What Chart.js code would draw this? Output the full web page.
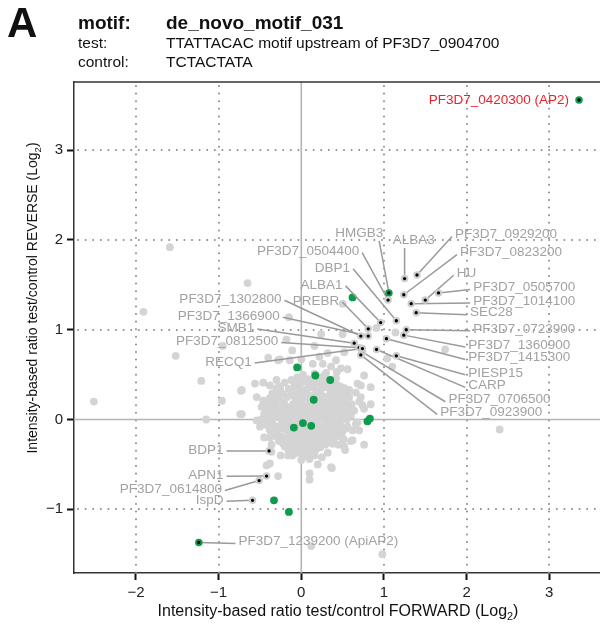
<!DOCTYPE html>
<html>
<head>
<meta charset="utf-8">
<script src="https://cdn.jsdelivr.net/npm/chart.js@4.4.1/dist/chart.umd.min.js"></script>
<style>
  html, body { margin: 0; padding: 0; background: #fff; overflow: hidden; }
  #wrap { position: relative; width: 600px; height: 626px; overflow: hidden; }
  #chart { position: absolute; left: 0; top: 0; }
  .hd { position: absolute; font-family: "Liberation Sans", Arial, sans-serif; color: #111; white-space: nowrap; line-height: 1; }
  .b { font-weight: bold; }
</style>
</head>
<body>
<div id="wrap">
  <canvas id="chart" width="640" height="626"></canvas>
  <div class="hd b" style="left:7px; top:2px; font-size:42px;">A</div>
  <div class="hd b" style="left:78px; top:13px; font-size:19px;">motif:</div>
  <div class="hd b" style="left:166px; top:13px; font-size:19px;">de_novo_motif_031</div>
  <div class="hd" style="left:78px; top:35px; font-size:15.5px;">test:</div>
  <div class="hd" style="left:166px; top:35px; font-size:15.5px;">TTATTACAC motif upstream of PF3D7_0904700</div>
  <div class="hd" style="left:78px; top:54px; font-size:15.5px;">control:</div>
  <div class="hd" style="left:166px; top:54px; font-size:15.5px;">TCTACTATA</div>
</div>
<script>
const FONT = '"Liberation Sans", Arial, Helvetica, sans-serif';

// axis ticks (Log2)
const xTickValues = [-2, -1, 0, 1, 2, 3];
const yTickValues = [-1, 0, 1, 2, 3];

// all other proteins: [FORWARD, REVERSE]
const otherProteins = [
  [-0.05,0.47],[0.08,0.45],[0.22,0.47],[0.34,0.43],[0.42,0.46],
  [-0.2,0.41],[-0.08,0.39],[0.03,0.42],[0.12,0.38],[0.19,0.41],[0.27,0.39],[0.38,0.40],[0.47,0.37],
  [-0.12,0.44],[0.0,0.43],[0.15,0.44],[0.3,0.43],
  [-0.3,0.35],[-0.15,0.34],[-0.04,0.36],[0.06,0.33],[0.15,0.35],[0.24,0.34],[0.31,0.36],[0.40,0.33],[0.52,0.35],
  [-0.25,0.32],[-0.09,0.31],[0.02,0.30],[0.2,0.31],[0.36,0.30],[0.48,0.31],
  [-0.35,0.29],[-0.22,0.28],[-0.12,0.27],[-0.01,0.29],[0.09,0.27],[0.18,0.28],[0.26,0.26],[0.35,0.29],[0.44,0.27],[0.55,0.28],
  [-0.38,0.24],[-0.27,0.23],[-0.17,0.25],[-0.06,0.22],[0.04,0.24],[0.13,0.23],[0.21,0.25],[0.30,0.22],[0.39,0.24],[0.49,0.23],[0.58,0.25],
  [-0.34,0.21],[-0.02,0.20],[0.1,0.21],[0.25,0.19],[0.45,0.20],
  [-0.41,0.18],[-0.31,0.17],[-0.21,0.19],[-0.1,0.17],[0.0,0.18],[0.08,0.16],[0.17,0.18],[0.26,0.16],[0.34,0.19],[0.43,0.17],[0.53,0.18],[0.61,0.17],
  [-0.37,0.15],[-0.18,0.14],[0.05,0.15],[0.22,0.13],[0.4,0.14],[0.5,0.15],
  [-0.43,0.12],[-0.33,0.11],[-0.24,0.13],[-0.14,0.11],[-0.05,0.12],[0.04,0.10],[0.12,0.12],[0.21,0.11],[0.29,0.13],[0.38,0.11],[0.47,0.12],[0.57,0.10],
  [-0.40,0.09],[-0.2,0.08],[-0.01,0.09],[0.15,0.07],[0.31,0.08],[0.55,0.07],
  [-0.45,0.06],[-0.36,0.05],[-0.27,0.07],[-0.18,0.05],[-0.08,0.06],[0.01,0.04],[0.09,0.06],[0.17,0.05],[0.26,0.06],[0.34,0.04],[0.43,0.06],[0.52,0.05],[0.60,0.04],
  [-0.41,0.03],[-0.22,0.02],[-0.1,0.03],[0.07,0.02],[0.24,0.03],[0.41,0.02],[0.5,0.01],
  [-0.44,0.0],[-0.35,-0.01],[-0.25,0.01],[-0.15,-0.01],[-0.06,0.0],[0.03,0.01],[0.12,-0.01],[0.2,0.0],[0.29,-0.01],[0.37,0.0],[0.46,-0.01],[0.55,0.0],
  [-0.38,-0.03],[-0.19,-0.04],[0.0,-0.03],[0.18,-0.04],[0.35,-0.03],[0.44,-0.04],
  [-0.42,-0.06],[-0.32,-0.07],[-0.23,-0.05],[-0.13,-0.06],[-0.04,-0.07],[0.05,-0.05],[0.14,-0.06],[0.22,-0.07],[0.31,-0.05],[0.39,-0.06],[0.48,-0.07],
  [-0.35,-0.09],[-0.16,-0.10],[0.03,-0.09],[0.2,-0.10],[0.37,-0.09],[0.46,-0.10],
  [-0.38,-0.12],[-0.29,-0.13],[-0.2,-0.11],[-0.1,-0.12],[-0.01,-0.13],[0.08,-0.12],[0.17,-0.11],[0.25,-0.13],[0.33,-0.12],[0.42,-0.11],[0.5,-0.13],
  [-0.3,-0.15],[-0.12,-0.16],[0.06,-0.15],[0.23,-0.16],[0.4,-0.15],
  [-0.33,-0.18],[-0.24,-0.19],[-0.15,-0.17],[-0.06,-0.18],[0.03,-0.19],[0.11,-0.17],[0.2,-0.18],[0.28,-0.19],[0.37,-0.17],[0.45,-0.18],
  [-0.28,-0.21],[-0.1,-0.22],[0.07,-0.21],[0.22,-0.22],[0.4,-0.21],
  [-0.27,-0.24],[-0.18,-0.25],[-0.09,-0.23],[0.0,-0.24],[0.09,-0.25],[0.17,-0.23],[0.25,-0.24],[0.33,-0.25],
  [-0.22,-0.27],[-0.05,-0.28],[0.11,-0.27],[0.29,-0.28],
  [-0.2,-0.30],[-0.11,-0.31],[-0.02,-0.30],[0.07,-0.31],[0.15,-0.29],[0.23,-0.31],
  [-0.16,-0.33],[0.0,-0.34],[0.18,-0.33],
  [-0.14,-0.36],[-0.05,-0.37],[0.04,-0.36],[0.12,-0.37],
  [-0.26,0.37],[-0.02,0.37],[0.09,0.36],[0.28,0.37],[0.44,0.38],
  [-0.30,0.26],[-0.08,0.26],[0.15,0.26],[0.33,0.25],[0.51,0.26],
  [-0.28,0.14],[-0.08,0.14],[0.14,0.15],[0.31,0.15],[0.58,0.14],
  [-0.31,0.04],[-0.13,0.05],[0.13,0.03],[0.30,0.04],[0.47,0.03],
  [-0.27,-0.08],[-0.08,-0.09],[0.10,-0.08],[0.27,-0.09],[0.42,-0.08],
  [-0.38,-0.20],[-0.19,-0.21],[-0.02,-0.20],[0.15,-0.21],[0.32,-0.20],
  [-0.13,-0.26],[0.05,-0.27],[0.21,-0.26],[0.38,-0.27],
  [-0.11,-0.40],[0.02,-0.41],[0.16,-0.40],[0.02,0.50],[0.16,0.51],[0.28,0.49],
  [0.43,0.53],[0.30,0.52],[-0.30,0.44],[-0.38,0.38],[0.66,0.30],[0.64,0.10],[0.66,-0.05],[-0.48,0.14],
  [-0.50,-0.08],[-0.45,-0.20],[-0.36,-0.28],[0.45,-0.28],[-0.25,-0.40],[0.25,-0.42],[0.0,-0.45],[0.20,-0.50],
  [-1.59,1.92],[-1.91,1.20],[-1.52,0.71],[-1.21,0.43],[-2.51,0.20],[-1.15,0.0],[-0.96,0.21],[-0.95,0.82],
  [-0.73,0.32],[-0.74,0.06],[-0.65,1.52],[-0.15,1.14],[-0.18,0.89],[-0.11,0.77],[-0.40,0.69],[-0.28,0.66],
  [2.40,-0.11],[0.98,-1.50],[0.12,-1.41],[0.37,-0.54],[0.53,-0.34],[0.76,-0.28],[0.51,-0.22],[0.60,-0.24],
  [0.54,-0.10],[0.62,-0.12],[0.68,-0.03],[0.72,0.25],[0.74,0.16],[0.84,0.17],[0.84,0.36],[0.68,0.40],
  [-0.26,0.67],[-0.14,0.66],[0.22,0.70],[0.26,0.62],[0.14,0.62],[0.36,0.59],[0.48,0.57],[0.56,0.56],
  [0.76,0.49],[0.72,0.38],[0.58,0.33],[0.70,0.20],[0.76,0.12],
  [-0.56,0.40],[-0.46,0.41],[-0.72,0.33],[-0.54,0.25],[-0.46,0.21],[-0.72,0.06],[-0.54,-0.01],[-0.48,0.0],
  [0.56,-0.08],[0.70,-0.12],[0.50,-0.21],[0.62,-0.23],[0.32,-0.37],
  [-0.16,-0.40],[-0.08,-0.38],[0.06,-0.40],[0.10,-0.44],[-0.42,-0.51],[-0.38,-0.49],[-0.28,-0.63],
  [0.10,-0.60],[0.10,-0.67],[0.36,-0.53],[-0.36,-0.36],[0.52,-0.30],
  [0.24,0.95],[0.50,0.95],[0.16,0.82],[0.0,0.67],[0.32,0.74],[0.42,0.66],[0.52,0.75],
  [0.91,1.02],[1.14,0.97],[1.74,0.78],[1.04,0.68],[1.10,0.59],[0.50,1.29]
];

// enriched proteins without a name
const hitProteins = [
  [0.62,1.36],[-0.05,0.58],[0.17,0.49],[0.35,0.44],[0.15,0.22],[-0.09,-0.09],
  [0.02,-0.04],[0.12,-0.07],[0.80,-0.02],[0.83,0.01],[-0.33,-0.90],[-0.15,-1.03]
];

// named proteins
const namedProteins = [
  'PF3D7_0420300 (AP2)', 'HMGB3', 'ALBA3', 'PF3D7_0929200', 'PF3D7_0823200', 'HU',
  'PF3D7_0505700', 'PF3D7_1014100', 'SEC28', 'PF3D7_0723900', 'PF3D7_1360900', 'PF3D7_1415300',
  'PIESP15', 'CARP', 'PF3D7_0706500', 'PF3D7_0923900', 'PF3D7_0504400', 'DBP1',
  'ALBA1', 'PREBR', 'PF3D7_1302800', 'PF3D7_1366900', 'SMB1', 'PF3D7_0812500',
  'RECQ1', 'BDP1', 'APN1', 'PF3D7_0614800', 'IspD', 'PF3D7_1239200 (ApiAP2)'
];
const namedX = [3.36, 1.06, 1.25, 1.40, 1.24, 1.50, 1.66, 1.33, 1.39, 1.27, 1.24, 1.03,
  1.15, 0.91, 0.74, 0.72, 1.05, 1.15, 0.96, 0.81, 0.72, 0.81, 0.64, 0.70,
  0.74, -0.39, -0.42, -0.51, -0.59, -1.24];
const namedY = [3.56, 1.41, 1.57, 1.61, 1.39, 1.33, 1.41, 1.29, 1.19, 1.00, 0.94, 0.90,
  0.71, 0.78, 0.75, 0.72, 1.33, 1.10, 1.08, 1.01, 0.93, 0.93, 0.85, 0.80,
  0.79, -0.35, -0.63, -0.68, -0.90, -1.37];
const namedHit = [true, true, false, false, false, false, false, false, false, false, false, false,
  false, false, false, false, false, false, false, false, false, false, false, false,
  false, false, false, false, false, true];
const featuredName = 'PF3D7_0420300 (AP2)';

// where each name is written (data units); N = no leader, T = above, L = left of point, R = right of point
const namePlacement = [
  [3.24, 3.56, 'N'], [0.70, 2.08, 'T'], [1.36, 2.00, 'T'], [1.86, 2.06, 'R'], [1.92, 1.86, 'R'], [1.88, 1.63, 'R'],
  [2.08, 1.47, 'R'], [2.08, 1.32, 'R'], [2.04, 1.19, 'R'], [2.08, 1.01, 'R'], [2.02, 0.83, 'R'], [2.02, 0.69, 'R'],
  [2.02, 0.52, 'R'], [2.02, 0.38, 'R'], [1.78, 0.22, 'R'], [1.68, 0.08, 'R'], [0.70, 1.87, 'L'], [0.59, 1.69, 'L'],
  [0.50, 1.50, 'L'], [0.46, 1.32, 'L'], [-0.24, 1.34, 'L'], [-0.26, 1.15, 'L'], [-0.57, 1.02, 'L'], [-0.28, 0.87, 'L'],
  [-0.60, 0.64, 'L'], [-0.94, -0.34, 'L'], [-0.94, -0.62, 'L'], [-0.96, -0.78, 'L'], [-0.94, -0.90, 'L'], [-0.76, -1.36, 'R']
];

const GREY = '#d4d4d4';
const GREEN = '#0c9c4c';
const LABEL_GREY = '#a2a2a2';

const toXY = p => ({ x: p[0], y: p[1] });
const minus = v => (v < 0 ? '\u2212' + Math.abs(v) : String(v));

// dotted grid with solid zero lines + frame
const refLines = {
  id: 'refLines',
  beforeDatasetsDraw(chart) {
    const { ctx, chartArea: a, scales: { x, y } } = chart;
    ctx.save();
    ctx.lineCap = 'round';
    ctx.strokeStyle = '#8c8c8c';
    ctx.lineWidth = 2;
    ctx.setLineDash([0, 7.6]);
    xTickValues.filter(v => v !== 0).forEach(v => {
      const px = Math.round(x.getPixelForValue(v));
      ctx.beginPath(); ctx.moveTo(px, a.top + 4); ctx.lineTo(px, a.bottom); ctx.stroke();
    });
    yTickValues.filter(v => v !== 0).forEach(v => {
      const py = Math.round(y.getPixelForValue(v));
      ctx.beginPath(); ctx.moveTo(a.left + 4, py); ctx.lineTo(a.right, py); ctx.stroke();
    });
    ctx.setLineDash([]);
    ctx.lineCap = 'butt';
    ctx.strokeStyle = '#b4b4b4';
    ctx.lineWidth = 1.6;
    const x0 = x.getPixelForValue(0), y0 = y.getPixelForValue(0);
    ctx.beginPath(); ctx.moveTo(x0, a.top); ctx.lineTo(x0, a.bottom); ctx.stroke();
    ctx.beginPath(); ctx.moveTo(a.left, y0); ctx.lineTo(a.right, y0); ctx.stroke();
    ctx.restore();
  },
  afterDraw(chart) {
    const { ctx, chartArea: a } = chart;
    ctx.save();
    ctx.strokeStyle = '#333';
    ctx.lineWidth = 1.5;
    ctx.beginPath(); ctx.moveTo(a.left, a.top); ctx.lineTo(a.right, a.top); ctx.stroke();
    ctx.restore();
  }
};

// leader lines go under the named dots, the names on top
const nameLabels = {
  id: 'nameLabels',
  afterDatasetDraw(chart, args) {
    if (chart.data.datasets[args.index].label !== 'hits') return;
    const { ctx, scales: { x, y } } = chart;
    ctx.save();
    ctx.font = '13.5px ' + FONT;
    ctx.strokeStyle = '#9a9a9a';
    ctx.lineWidth = 1.5;
    namedProteins.forEach((name, i) => {
      const [lx, ly, side] = namePlacement[i];
      if (side === 'N') return;
      const px = x.getPixelForValue(namedX[i]), py = y.getPixelForValue(namedY[i]);
      const tx = x.getPixelForValue(lx), ty = y.getPixelForValue(ly);
      const w = ctx.measureText(name).width;
      let ax, ay;
      if (side === 'L') { ax = tx + 3; ay = ty + 1; }
      else if (side === 'R') { ax = tx - 3; ay = ty + 2; }
      else { ax = Math.min(Math.max(px, tx - w / 2 + 4), tx + w / 2 - 4); ay = ty + 8; }
      ctx.beginPath(); ctx.moveTo(ax, ay); ctx.lineTo(px, py); ctx.stroke();
    });
    ctx.restore();
  },
  afterDatasetsDraw(chart) {
    const { ctx, scales: { x, y } } = chart;
    ctx.save();
    ctx.font = '13.5px ' + FONT;
    ctx.textBaseline = 'middle';
    namedProteins.forEach((name, i) => {
      const [lx, ly, side] = namePlacement[i];
      const tx = x.getPixelForValue(lx), ty = y.getPixelForValue(ly);
      ctx.fillStyle = name === featuredName ? '#e8232b' : LABEL_GREY;
      ctx.textAlign = side === 'R' ? 'left' : (side === 'T' ? 'center' : 'right');
      ctx.fillText(name, tx, ty);
    });
    ctx.restore();
  }
};

// axis titles with subscript 2
const axisTitles = {
  id: 'axisTitles',
  afterDraw(chart) {
    const { ctx } = chart;
    const draw = (main, size, cx, cy, rot) => {
      ctx.save();
      ctx.translate(cx, cy);
      ctx.rotate(rot);
      ctx.fillStyle = '#111';
      ctx.textBaseline = 'alphabetic';
      ctx.textAlign = 'left';
      ctx.font = size + 'px ' + FONT;
      const sub = size * 0.68;
      const w1 = ctx.measureText(main + '(Log').width;
      const w3 = ctx.measureText(')').width;
      ctx.font = sub + 'px ' + FONT;
      const w2 = ctx.measureText('2').width;
      const start = -(w1 + w2 + w3) / 2;
      const base = size * 0.36;
      ctx.font = size + 'px ' + FONT;
      ctx.fillText(main + '(Log', start, base);
      ctx.font = sub + 'px ' + FONT;
      ctx.fillText('2', start + w1, base + size * 0.25);
      ctx.font = size + 'px ' + FONT;
      ctx.fillText(')', start + w1 + w2, base);
      ctx.restore();
    };
    draw('Intensity-based ratio test/control FORWARD ', 16, 338, 610, 0);
    draw('Intensity-based ratio test/control REVERSE ', 14, 32, 298, -Math.PI / 2);
  }
};

new Chart(document.getElementById('chart'), {
  type: 'scatter',
  data: {
    datasets: [
      {
        label: 'named',
        order: 0,
        data: namedX.map((v, i) => ({ x: v, y: namedY[i] })),
        backgroundColor: '#000',
        borderColor: ctx => (namedHit[ctx.dataIndex] ? GREEN : '#cdcdcd'),
        borderWidth: 2.1,
        pointRadius: 2.7,
        pointHoverRadius: 2.7
      },
      {
        label: 'hits',
        order: 1,
        data: hitProteins.map(toXY),
        backgroundColor: GREEN,
        borderWidth: 0,
        pointRadius: 3.9,
        pointHoverRadius: 3.9
      },
      {
        label: 'other',
        order: 2,
        data: otherProteins.map(toXY),
        backgroundColor: GREY,
        borderWidth: 0,
        pointRadius: 3.9,
        pointHoverRadius: 3.9
      }
    ]
  },
  options: {
    responsive: false,
    animation: false,
    devicePixelRatio: 1,
    layout: { padding: { top: 82, left: 0, right: 0, bottom: 0 } },
    plugins: { legend: { display: false }, tooltip: { enabled: false } },
    scales: {
      x: {
        type: 'linear',
        min: -2.75,
        max: 4.04,
        afterBuildTicks: s => { s.ticks = xTickValues.map(v => ({ value: v })); },
        afterFit: s => { s.height = 53; },
        ticks: { color: '#222', font: { family: FONT, size: 15 }, padding: 4, maxRotation: 0, callback: minus },
        grid: { drawOnChartArea: false, drawTicks: true, tickLength: 7, tickWidth: 2, tickColor: '#111' },
        border: { display: true, color: '#333', width: 1.5 }
      },
      y: {
        type: 'linear',
        min: -1.71,
        max: 3.76,
        afterBuildTicks: s => { s.ticks = yTickValues.map(v => ({ value: v })); },
        afterFit: s => { s.width = 74; },
        ticks: { color: '#222', font: { family: FONT, size: 15 }, padding: 4, callback: minus },
        grid: { drawOnChartArea: false, drawTicks: true, tickLength: 7, tickWidth: 2, tickColor: '#111' },
        border: { display: true, color: '#333', width: 1.5 }
      }
    }
  },
  plugins: [refLines, nameLabels, axisTitles]
});
</script>
</body>
</html>
